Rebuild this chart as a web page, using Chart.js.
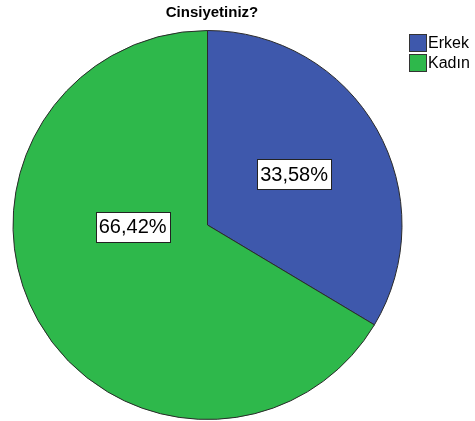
<!DOCTYPE html>
<html>
<head>
<meta charset="utf-8">
<script src="https://cdn.jsdelivr.net/npm/chart.js@4.4.0/dist/chart.umd.min.js"></script>
<style>
    html, body { margin: 0; padding: 0; background: #fff; }
    #wrap { width: 475px; height: 421px; }
</style>
</head>
<body>
<div id="wrap"><canvas id="myChart" width="475" height="421"></canvas></div>
<script>
const TITLE = "Cinsiyetiniz?";
const CATEGORIES = ["Erkek", "Kadın"];
const PERCENTS = [33.58, 66.42];
const COLORS = ["#3e58ac", "#2eb84b"];
// where the value boxes sit, as (x, y) relative to the pie centre in units of radius
const LABEL_POS = [[0.445, -0.26], [-0.385, 0.01]];

function fmt(v) {
    return v.toFixed(2).replace(".", ",") + "%";
}

const spssPlugin = {
    id: "spss",
    afterDraw: function (chart) {
        const ctx = chart.ctx;
        const arc = chart.getDatasetMeta(0).data[0];
        const cx = arc.x, cy = arc.y, r = arc.outerRadius;
        ctx.save();
        // title
        ctx.fillStyle = "#000";
        ctx.font = "bold 15px Arial, 'Liberation Sans', sans-serif";
        ctx.textAlign = "center";
        ctx.textBaseline = "middle";
        ctx.fillText(TITLE, 212, 13);
        // legend
        ctx.font = "16px Arial, 'Liberation Sans', sans-serif";
        ctx.textAlign = "left";
        CATEGORIES.forEach(function (name, i) {
            const y = 34 + i * 20;
            ctx.fillStyle = COLORS[i];
            ctx.fillRect(409.5, y + 0.5, 17, 17);
            ctx.strokeStyle = "#333";
            ctx.lineWidth = 1;
            ctx.strokeRect(409.5, y + 0.5, 17, 17);
            ctx.fillStyle = "#000";
            ctx.fillText(name, 428, y + 10);
        });
        // value boxes
        ctx.font = "20px Arial, 'Liberation Sans', sans-serif";
        ctx.textAlign = "center";
        PERCENTS.forEach(function (v, i) {
            const x = cx + LABEL_POS[i][0] * r;
            const y = cy + LABEL_POS[i][1] * r;
            const txt = fmt(v);
            const w = ctx.measureText(txt).width + 6;
            const h = 30;
            ctx.fillStyle = "#fff";
            ctx.fillRect(Math.round(x - w / 2) + 0.5, Math.round(y - h / 2) + 0.5, Math.round(w), h);
            ctx.strokeStyle = "#222";
            ctx.lineWidth = 1;
            ctx.strokeRect(Math.round(x - w / 2) + 0.5, Math.round(y - h / 2) + 0.5, Math.round(w), h);
            ctx.fillStyle = "#000";
            ctx.fillText(txt, x, y + 1);
        });
        ctx.restore();
    }
};

const ctx1 = document.getElementById("myChart");
const myChart = new Chart(ctx1, {
    type: "pie",
    data: {
        labels: CATEGORIES,
        datasets: [{
            data: PERCENTS,
            backgroundColor: COLORS,
            borderColor: "#2a2a2a",
            borderWidth: 1
        }]
    },
    options: {
        responsive: false,
        animation: false,
        layout: { padding: { left: 12, right: 72, top: 30, bottom: 1 } },
        plugins: {
            legend: { display: false },
            title: { display: false },
            tooltip: { enabled: false }
        }
    },
    plugins: [spssPlugin]
});
</script>
</body>
</html>
